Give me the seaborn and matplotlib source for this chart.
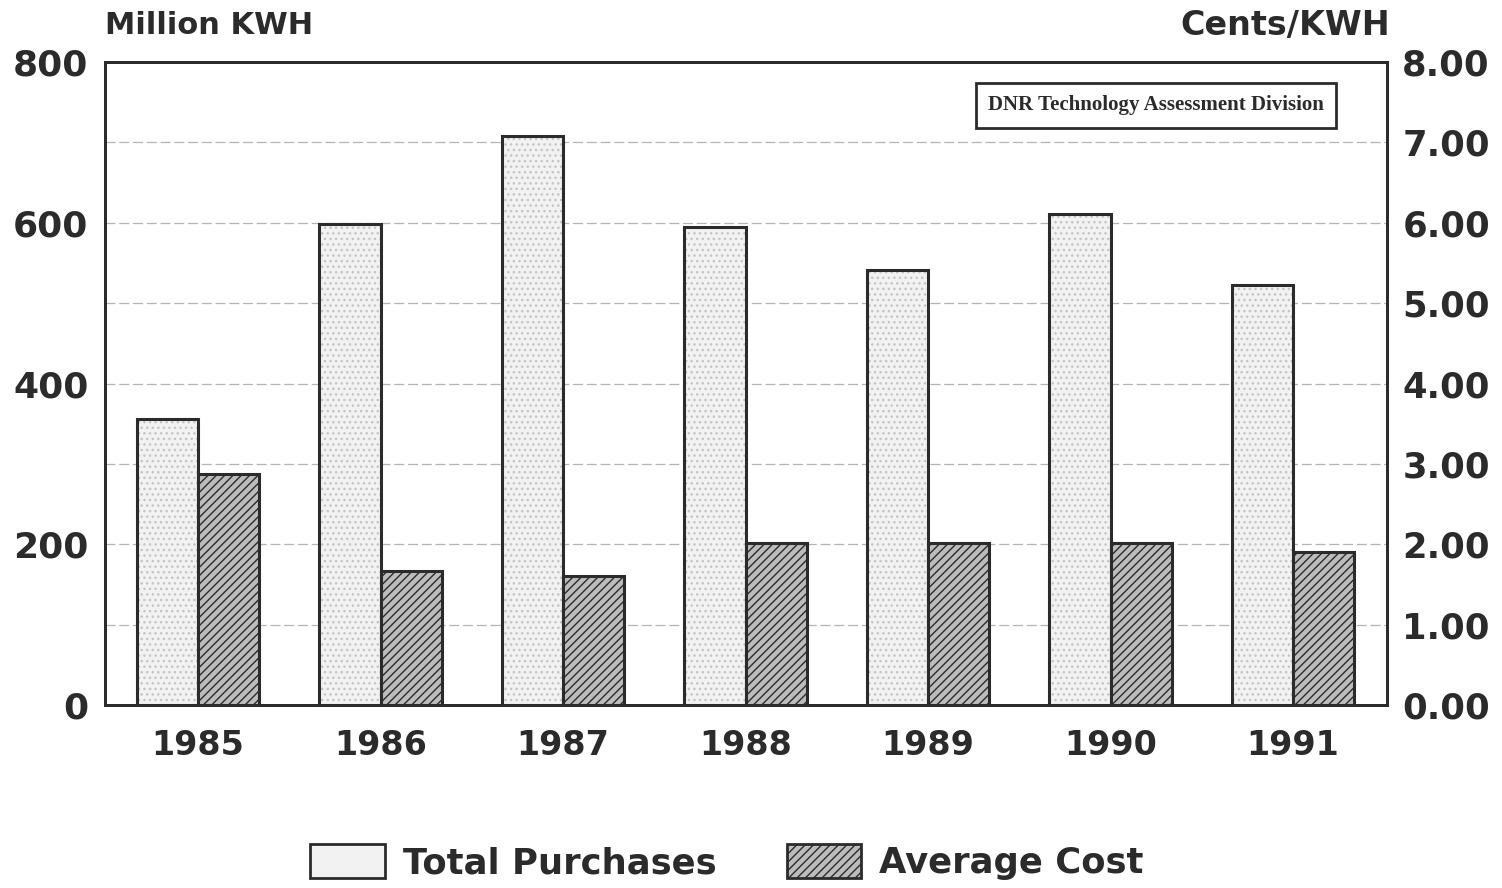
import matplotlib
matplotlib.use("Agg")
import matplotlib.pyplot as plt
import seaborn as sns
import pandas as pd
import numpy as np
from matplotlib.patches import Patch, Rectangle

years = ["1985", "1986", "1987", "1988", "1989", "1990", "1991"]
purchases = [356, 598, 708, 595, 541, 611, 523]          # Million KWH
avg_cost = [2.87, 1.67, 1.60, 2.02, 2.02, 2.02, 1.90]    # Cents/KWH
series = ["Total Purchases", "Average Cost"]
left_ticks = [0, 200, 400, 600, 800]
right_ticks = [0, 1, 2, 3, 4, 5, 6, 7, 8]

sns.set_theme(style="white")
plt.rcParams["font.family"] = ["DejaVu Sans"]
plt.rcParams["hatch.linewidth"] = 1.0

ink = "#2b2b2b"

df_left = pd.DataFrame({"year": years, "value": purchases, "series": series[0]})
df_right = pd.DataFrame({"year": years, "value": avg_cost, "series": series[1]})
df_left_full = pd.concat([df_left, pd.DataFrame({"year": years, "value": [np.nan]*len(years), "series": series[1]})],
                         ignore_index=True)
df_right_full = pd.concat([pd.DataFrame({"year": years, "value": [np.nan]*len(years), "series": series[0]}), df_right],
                          ignore_index=True)

fig = plt.figure(figsize=(15.02, 8.88), dpi=100)
ax1 = fig.add_axes([105/1502, 1-705/888, (1387-105)/1502, (705-62)/888])
ax2 = ax1.twinx()

pal = {series[0]: "#f2f2f2", series[1]: "#bcbcbc"}
sns.barplot(data=df_left_full, x="year", y="value", hue="series", hue_order=series,
            palette=pal, width=0.67, dodge=True, ax=ax1, legend=False,
            edgecolor="#c4c4c4", linewidth=0, saturation=1, errorbar=None, zorder=2)
sns.barplot(data=df_right_full, x="year", y="value", hue="series", hue_order=series,
            palette=pal, width=0.67, dodge=True, ax=ax2, legend=False,
            edgecolor=ink, linewidth=2.2, saturation=1, errorbar=None)

# stipple texture on purchases, then dark outline
for p in list(ax1.patches):
    if p.get_height() > 0:
        p.set_hatch("...")
        ax1.add_patch(Rectangle(p.get_xy(), p.get_width(), p.get_height(), fill=False,
                                edgecolor=ink, lw=2.2, zorder=3))
for p in ax2.patches:
    p.set_hatch("////")

ax1.set_ylim(0, 800)
ax2.set_ylim(0, 8)
ax1.set_xlim(-0.51, 6.515)

# gridlines at every 100 (right-axis tick positions), behind bars
for v in range(100, 800, 100):
    ax1.axhline(v, color="#b4b4b4", lw=0.9, ls=(0, (8, 3)), zorder=0)

ax1.set_yticks(left_ticks)
ax1.set_yticklabels([str(t) for t in left_ticks], fontsize=26, fontweight="bold", color=ink)
ax2.set_yticks(right_ticks)
ax2.set_yticklabels([f"{t:.2f}" for t in right_ticks], fontsize=25.5, fontweight="bold", color=ink)
ax1.set_xticks(range(len(years)))
ax1.set_xticklabels(years, fontsize=24, fontweight="bold", color=ink)
ax1.tick_params(axis="x", length=0, pad=17)
ax1.tick_params(axis="y", length=0, pad=12)
ax2.tick_params(axis="y", length=0, pad=11)
ax1.set_xlabel("")
ax1.set_ylabel("")
ax2.set_ylabel("")

for ax in (ax1, ax2):
    for s in ax.spines.values():
        s.set_color(ink)
        s.set_linewidth(2)

fig.text(105/1502, 1-25/888, "Million KWH", fontsize=22, fontweight="bold", color=ink,
         ha="left", va="center")
fig.text(1390/1502, 1-25/888, "Cents/KWH", fontsize=24, fontweight="bold", color=ink,
         ha="right", va="center")

ax2.text((1156-105)/1282, (705-105)/643, "DNR Technology Assessment Division", transform=ax2.transAxes,
         fontsize=15, fontweight="bold", family=["Liberation Serif"], color=ink,
         ha="center", va="center",
         bbox=dict(boxstyle="square,pad=0.6", fc="white", ec=ink, lw=2))

handles = [Patch(facecolor=pal[series[0]], edgecolor=ink, lw=2),
           Patch(facecolor=pal[series[1]], edgecolor=ink, lw=2, hatch="////")]
fig.legend(handles, series, loc="center", bbox_to_anchor=(727/1502, 1-862/888), ncol=2,
           frameon=False, prop=dict(size=25.5, weight="bold"),
           handlelength=2.1, handleheight=1.1, columnspacing=2.0, handletextpad=0.5)

for t in fig.legends[0].get_texts():
    t.set_color(ink)

fig.savefig("out.png", dpi=100, facecolor="white")
